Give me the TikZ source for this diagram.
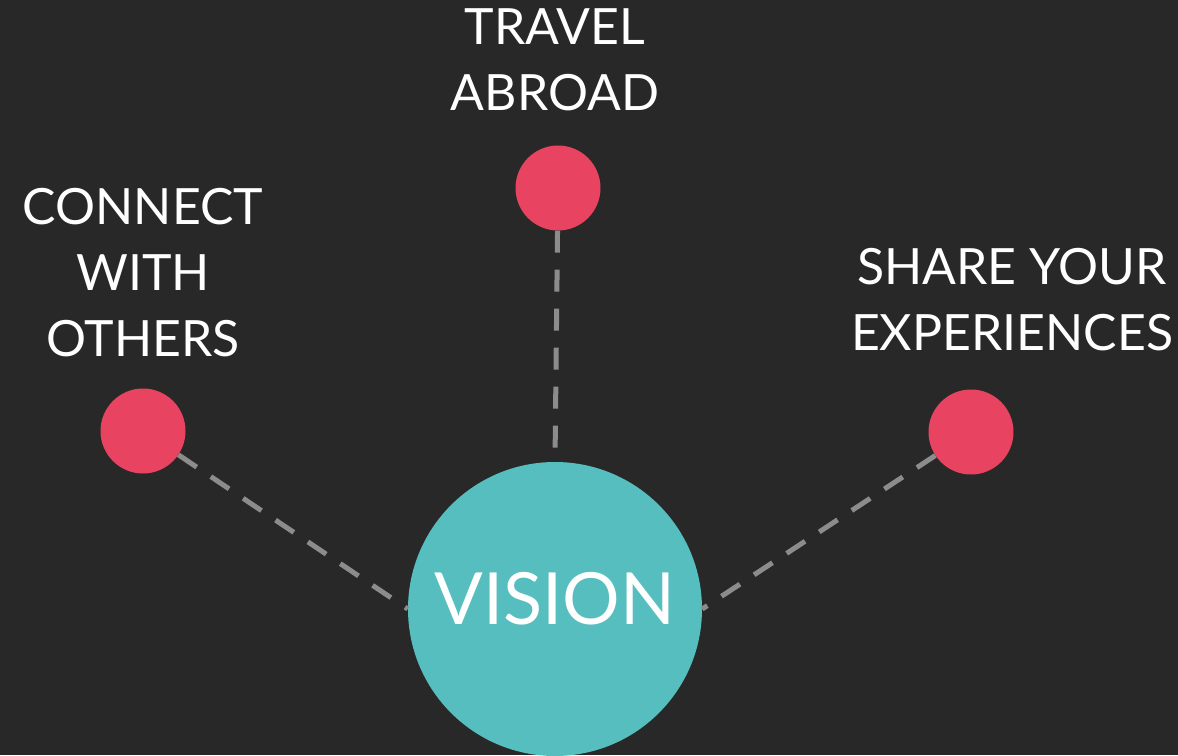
\documentclass[tikz,border=0pt]{standalone}
\usepackage{fontspec}
\setmainfont{Lato}
\usetikzlibrary{positioning}
\definecolor{bgdark}{HTML}{282828}
\definecolor{goalred}{HTML}{E84361}
\definecolor{hubteal}{HTML}{56BEBE}
\definecolor{linkgray}{HTML}{8C8C8C}
\tikzset{
  goal/.style={circle,fill=goalred,minimum size=85pt,inner sep=0pt},
  hub/.style={circle,fill=hubteal,minimum size=294pt,inner sep=0pt,text=white,
    text depth=22pt,font=\fontsize{72}{72}\selectfont},
  link/.style={draw=linkgray,line width=5pt,dash pattern=on 22pt off 17pt},
  caption/.style={text=white,align=center,inner sep=0pt,font=\fontsize{50}{66}\selectfont}
}
\begin{document}
\begin{tikzpicture}[x=1pt,y=-1pt]
		\fill[bgdark] (0,0) rectangle (1178,755);
		\useasboundingbox (0,0) rectangle (1178,755);
		
		\node[hub] (vision) at (555,609) {VISION};
		\node[goal] (travel) at (558,188) {};
		\node[goal] (connect) at (143,431) {};
		\node[goal] (share) at (971,432) {};
		
		\draw[link] (travel) -- (vision.north);
		\draw[link] (connect) -- (vision.west);
		\draw[link] (share) -- (vision.east);
		
		\node[caption] (travelText) at (555,60) {TRAVEL\\ABROAD};
		\node[caption] (connectText) at (143,273) {CONNECT\\WITH\\OTHERS};
		\node[caption] (shareText) at (1012,300) {SHARE YOUR\\EXPERIENCES};
\end{tikzpicture}
\end{document}
